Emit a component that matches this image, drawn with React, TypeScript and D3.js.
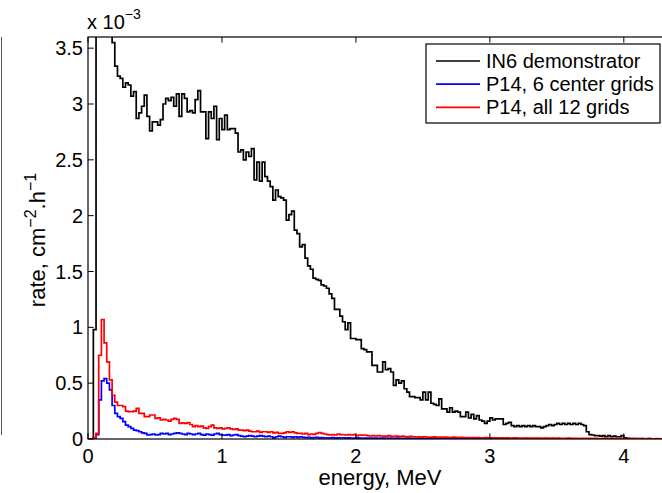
import React from 'react';
import * as d3 from 'd3';

// histogram bin width (MeV), values are in units of 1e-3 cm^-2.h^-1
const BIN = 0.02;

const in6Demo = [
  0, 0, 0.98, 5.2, 6.5, 7.1, 6.0, 4.8, 3.9, 3.55,
  3.34, 3.25, 3.23, 3.15, 3.19, 3.17, 3.07, 3.11, 2.87, 2.92,
  2.98, 3.08, 2.89, 2.76, 2.84, 2.84, 2.81, 2.86, 3.0, 3.05,
  3.03, 3.06, 2.98, 3.09, 2.89, 3.09, 3.05, 2.93, 2.94, 2.92,
  3.04, 3.12, 2.93, 2.93, 2.69, 2.93, 2.87, 2.98, 2.68, 2.87,
  2.77, 2.9, 2.77, 2.78, 2.78, 2.74, 2.57, 2.59, 2.5, 2.57,
  2.53, 2.6, 2.32, 2.48, 2.31, 2.48, 2.35, 2.31, 2.26, 2.14,
  2.23, 2.17, 2.16, 2.14, 1.96, 2.01, 2.04, 1.87, 1.84, 1.72,
  1.74, 1.62, 1.55, 1.52, 1.44, 1.43, 1.42, 1.38, 1.37, 1.35,
  1.3, 1.26, 1.16, 1.16, 1.1, 1.05, 0.98, 1.04, 0.9, 0.9,
  0.89, 0.89, 0.81, 0.8, 0.78, 0.78, 0.66, 0.66, 0.6, 0.6,
  0.69, 0.62, 0.63, 0.6, 0.48, 0.53, 0.5, 0.52, 0.45, 0.42,
  0.38, 0.38, 0.37, 0.37, 0.35, 0.42, 0.35, 0.42, 0.32, 0.31,
  0.3, 0.36, 0.27, 0.27, 0.24, 0.28, 0.24, 0.25, 0.24, 0.2,
  0.2, 0.24, 0.19, 0.22, 0.18, 0.21, 0.17, 0.16, 0.14, 0.16,
  0.19, 0.17, 0.18, 0.18, 0.18, 0.13, 0.14, 0.15, 0.12, 0.11,
  0.12, 0.11, 0.12, 0.11, 0.12, 0.11, 0.12, 0.11, 0.11, 0.1,
  0.11, 0.12, 0.13, 0.12, 0.13, 0.14, 0.13, 0.14, 0.13, 0.14,
  0.13, 0.14, 0.13, 0.14, 0.13, 0.12, 0.065, 0.04, 0.036, 0.03,
  0.03, 0.025, 0.03, 0.02, 0.03, 0.02, 0.025, 0.02, 0.02, 0.03,
  0.01, 0.006, 0.004, 0.003, 0.004, 0.002, 0.003, 0.002, 0.002, 0.003,
  0.001, 0.002, 0.001, 0.002, 0.001,
];

const p14Center = [
  0, 0, 0.01, 0.04, 0.35, 0.52, 0.54, 0.5, 0.44, 0.3,
  0.23, 0.2, 0.185, 0.155, 0.125, 0.11, 0.096, 0.08, 0.075, 0.065,
  0.055, 0.05, 0.036, 0.04, 0.045, 0.036, 0.04, 0.05, 0.045, 0.05,
  0.04, 0.045, 0.05, 0.055, 0.05, 0.045, 0.04, 0.05, 0.045, 0.04,
  0.045, 0.05, 0.04, 0.035, 0.045, 0.04, 0.035, 0.045, 0.05, 0.04,
  0.035, 0.035, 0.04, 0.03, 0.036, 0.04, 0.03, 0.025, 0.02, 0.025,
  0.03, 0.025, 0.02, 0.025, 0.03, 0.025, 0.02, 0.025, 0.02, 0.01,
  0.02, 0.025, 0.02, 0.015, 0.02, 0.02, 0.015, 0.02, 0.015, 0.02,
  0.015, 0.012, 0.015, 0.01, 0.012, 0.014, 0.01, 0.012, 0.009, 0.011,
  0.01, 0.012, 0.008, 0.01, 0.009, 0.011, 0.008, 0.01, 0.009, 0.008,
  0.01, 0.007, 0.009, 0.008, 0.007, 0.009, 0.007, 0.008, 0.006, 0.008, 0.007,
  0.006, 0.007, 0.005, 0.006, 0.007, 0.005, 0.006, 0.005, 0.007, 0.005,
  0.006, 0.004, 0.006, 0.005, 0.004, 0.006, 0.005, 0.004, 0.005, 0.006,
  0.004, 0.005, 0.004, 0.005, 0.003, 0.005, 0.004, 0.004, 0.003, 0.005,
  0.004, 0.003, 0.004, 0.003, 0.004, 0.003, 0.004, 0.003, 0.003, 0.004,
  0.003, 0.002, 0.003, 0.003, 0.002, 0.003, 0.002, 0.003, 0.002, 0.003,
  0.002, 0.002, 0.003, 0.002, 0.002, 0.003, 0.002, 0.002, 0.001, 0.002,
  0.002, 0.001, 0.002, 0.002, 0.001, 0.002, 0.001, 0.002, 0.001, 0.001,
  0.002, 0.001, 0.001, 0.002, 0.001, 0.001, 0.001, 0.002, 0.001, 0.001,
  0.001, 0.001, 0.002, 0.001, 0.001, 0.001, 0.001, 0.001, 0.001, 0.001,
  0.001, 0.001, 0.001, 0.001, 0.001, 0.001, 0.001, 0.001, 0.001, 0.001,
  0.001, 0.001, 0.001, 0.001,
];

const p14All = [
  0, 0, 0.01, 0.05, 0.75, 1.07, 0.86, 0.69, 0.53, 0.39,
  0.33, 0.3, 0.3, 0.29, 0.25, 0.245, 0.245, 0.25, 0.275, 0.23,
  0.23, 0.2, 0.2, 0.215, 0.215, 0.185, 0.19, 0.17, 0.175, 0.17,
  0.16, 0.175, 0.185, 0.175, 0.14, 0.145, 0.14, 0.146, 0.13, 0.11,
  0.12, 0.11, 0.115, 0.1, 0.096, 0.11, 0.125, 0.1, 0.096, 0.1,
  0.09, 0.096, 0.1, 0.09, 0.085, 0.09, 0.08, 0.08, 0.075, 0.08,
  0.07, 0.065, 0.065, 0.07, 0.06, 0.065, 0.065, 0.06, 0.065, 0.055,
  0.06, 0.05, 0.05, 0.055, 0.065, 0.06, 0.065, 0.055, 0.05, 0.05,
  0.045, 0.05, 0.04, 0.045, 0.042, 0.05, 0.058, 0.05, 0.045, 0.04,
  0.036, 0.04, 0.036, 0.045, 0.04, 0.038, 0.036, 0.04, 0.036, 0.04,
  0.03, 0.036, 0.035, 0.036, 0.03, 0.027, 0.03, 0.027, 0.03, 0.027,
  0.025, 0.025, 0.03, 0.022, 0.027, 0.025, 0.02, 0.025, 0.022, 0.02,
  0.024, 0.02, 0.018, 0.02, 0.016, 0.02, 0.018, 0.015, 0.017, 0.02,
  0.015, 0.016, 0.014, 0.017, 0.015, 0.013, 0.016, 0.014, 0.012, 0.015,
  0.013, 0.012, 0.01, 0.013, 0.011, 0.012, 0.01, 0.009, 0.012, 0.01,
  0.011, 0.009, 0.01, 0.008, 0.011, 0.009, 0.01, 0.008, 0.009, 0.01,
  0.008,
  0.008, 0.007, 0.009, 0.007, 0.008, 0.006, 0.008, 0.007, 0.006, 0.008,
  0.007, 0.006, 0.007, 0.005, 0.007, 0.006, 0.005, 0.006, 0.007, 0.005,
  0.006, 0.005, 0.004, 0.006, 0.005, 0.004, 0.005, 0.004, 0.005, 0.003,
  0.004, 0.005, 0.003, 0.004, 0.003, 0.004, 0.003, 0.004, 0.003, 0.002,
  0.003, 0.004, 0.003, 0.002, 0.003, 0.002, 0.003, 0.002, 0.003, 0.002,
  0.002, 0.003, 0.002, 0.002,
];

const xTicks = [0, 1, 2, 3, 4];
const yTicks = [0, 0.5, 1, 1.5, 2, 2.5, 3, 3.5];
const legendLabels = ['IN6 demonstrator', 'P14, 6 center grids', 'P14, all 12 grids'];
const seriesColors = ['#000000', '#0000ff', '#ff0000'];

const W = 662;
const H = 493;
const left = 88;
const right = 664;
const top = 37;
const bottom = 439;
const FONT = '"Liberation Sans", Arial, Helvetica, sans-serif';
const TICK = 5.7;

const App = () => {
  const x = d3.scaleLinear().domain([0, 4.3]).range([left, right]);
  const y = d3.scaleLinear().domain([0, 3.6]).range([bottom, top]);

  const stairs = (vals: number[]) => {
    const pts: [number, number][] = vals.map((v, i) => [i * BIN, v]);
    pts.push([vals.length * BIN, vals[vals.length - 1]]);
    return d3
      .line<[number, number]>()
      .x((d) => x(d[0]))
      .y((d) => y(d[1]))
      .curve(d3.curveStepAfter)(pts) as string;
  };

  const series = [in6Demo, p14Center, p14All];

  return (
    <div style={{ position: 'absolute', left: 0, top: 0 }}>
      <svg width={W} height={H} style={{ display: 'block', background: '#fff' }} fontFamily={FONT}>
        <defs>
          <clipPath id="plotArea">
            <rect x={left} y={top} width={right - left} height={bottom - top} />
          </clipPath>
        </defs>

        {/* stray edge of the neighbouring figure */}
        <line x1={1.5} x2={1.5} y1={37} y2={435} stroke="#555" strokeWidth={1} />

        <g clipPath="url(#plotArea)" fill="none" strokeWidth={1.7}>
          {series.map((s, i) => (
            <path key={i} d={stairs(s)} stroke={seriesColors[i]} />
          ))}
        </g>

        {/* axes box */}
        <rect x={left} y={top} width={right - left} height={bottom - top} fill="none" stroke="#000" strokeWidth={1.2} />

        {xTicks.map((t) => (
          <g key={'x' + t}>
            <line x1={x(t)} x2={x(t)} y1={bottom} y2={bottom - TICK} stroke="#000" />
            <line x1={x(t)} x2={x(t)} y1={top} y2={top + TICK} stroke="#000" />
            <text x={x(t)} y={463} fontSize={20} textAnchor="middle">
              {t}
            </text>
          </g>
        ))}

        {yTicks.map((t) => (
          <g key={'y' + t}>
            <line x1={left} x2={left + TICK} y1={y(t)} y2={y(t)} stroke="#000" />
            <text x={83} y={y(t) + 7} fontSize={20} textAnchor="end">
              {t}
            </text>
          </g>
        ))}

        {/* exponent */}
        <text x={87} y={29} fontSize={20}>
          x 10
          <tspan fontSize={14} dy={-10}>
            −3
          </tspan>
        </text>

        <text x={380} y={485} fontSize={22} textAnchor="middle">
          energy, MeV
        </text>

        <text transform="translate(45,240) rotate(-90)" fontSize={22} textAnchor="middle">
          rate, cm
          <tspan fontSize={16} dy={-9}>
            −2
          </tspan>
          <tspan dy={9}>.h</tspan>
          <tspan fontSize={16} dy={-9}>
            −1
          </tspan>
        </text>

        {/* legend */}
        <g>
          <rect x={426} y={44} width={234} height={79} fill="#fff" stroke="#000" strokeWidth={1.2} />
          {legendLabels.map((lab, i) => {
            const ry = 61 + i * 23.2;
            return (
              <g key={lab}>
                <line x1={436} x2={480} y1={ry} y2={ry} stroke={seriesColors[i]} strokeWidth={1.7} />
                <text x={486} y={ry + 7} fontSize={20}>
                  {lab}
                </text>
              </g>
            );
          })}
        </g>
      </svg>
    </div>
  );
};

export default App;
